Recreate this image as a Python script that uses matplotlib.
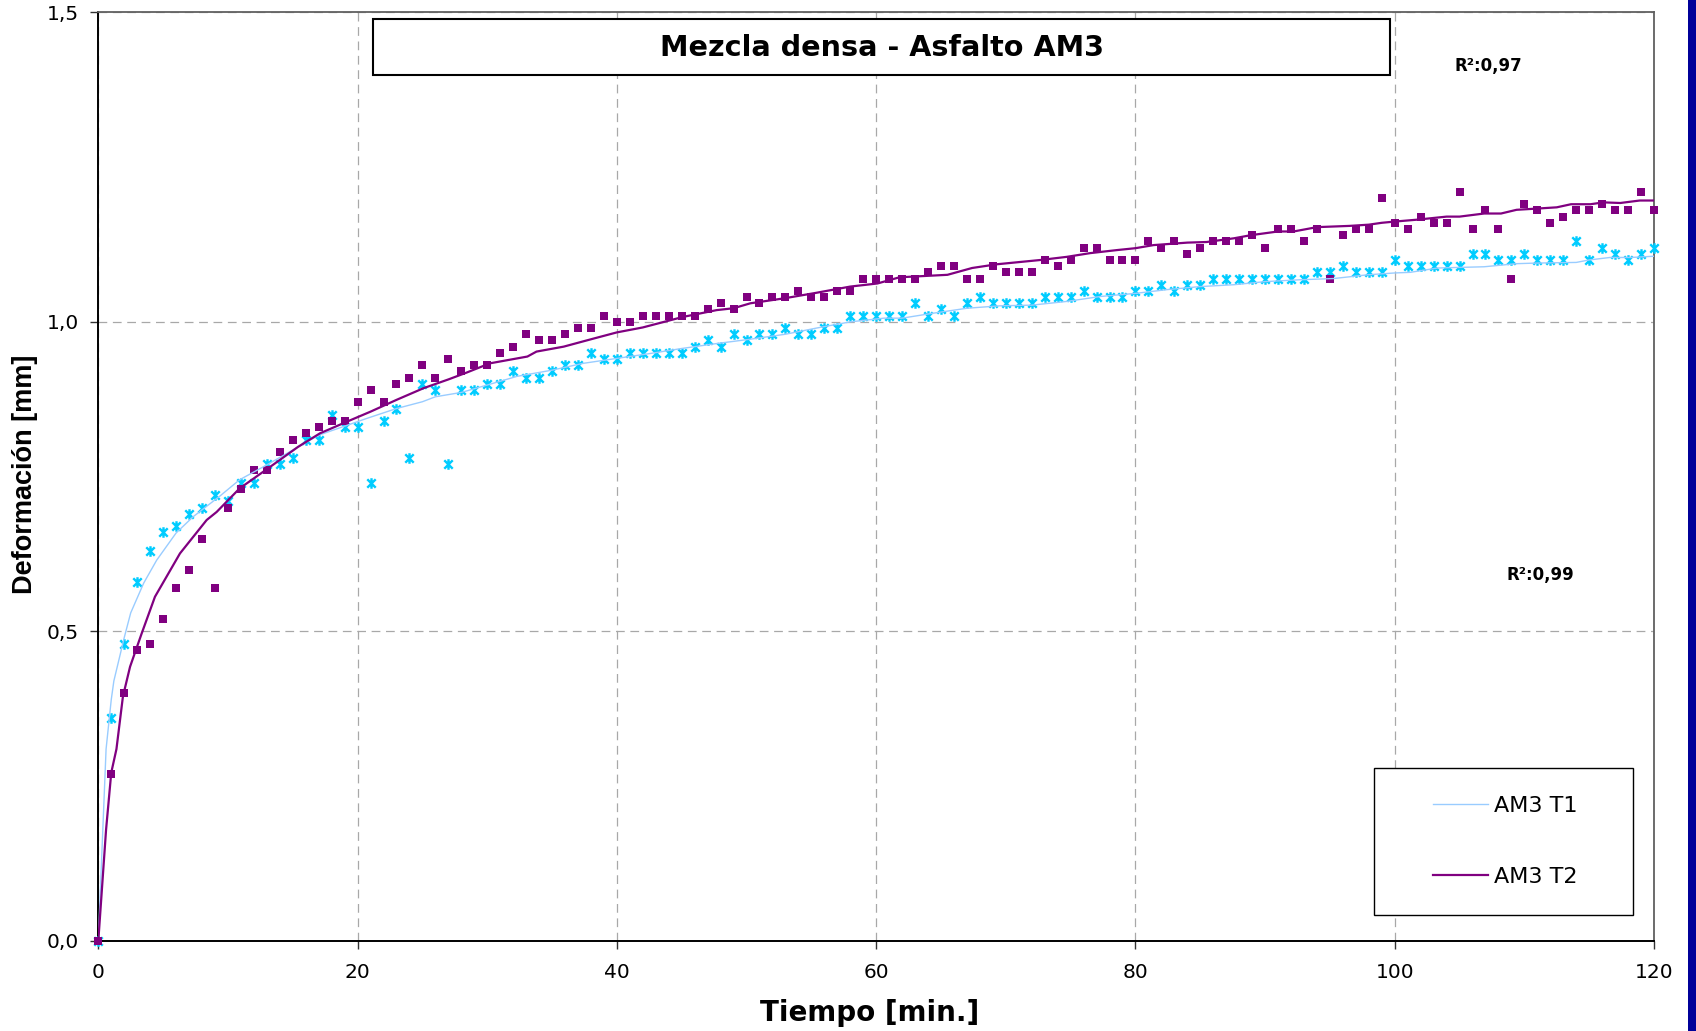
import matplotlib
matplotlib.use("Agg")
import matplotlib.pyplot as plt
from matplotlib.path import Path
from matplotlib.patches import Rectangle

# ---------------- data ----------------
minutes = list(range(121))

am3_t1 = [0.00, 0.36, 0.48, 0.58, 0.63, 0.66, 0.67, 0.69, 0.70, 0.72,
          0.71, 0.74, 0.74, 0.77, 0.77, 0.78, 0.81, 0.81, 0.85, 0.83,
          0.83, 0.74, 0.84, 0.86, 0.78, 0.90, 0.89, 0.77, 0.89, 0.89,
          0.90, 0.90, 0.92, 0.91, 0.91, 0.92, 0.93, 0.93, 0.95, 0.94,
          0.94, 0.95, 0.95, 0.95, 0.95, 0.95, 0.96, 0.97, 0.96, 0.98,
          0.97, 0.98, 0.98, 0.99, 0.98, 0.98, 0.99, 0.99, 1.01, 1.01,
          1.01, 1.01, 1.01, 1.03, 1.01, 1.02, 1.01, 1.03, 1.04, 1.03,
          1.03, 1.03, 1.03, 1.04, 1.04, 1.04, 1.05, 1.04, 1.04, 1.04,
          1.05, 1.05, 1.06, 1.05, 1.06, 1.06, 1.07, 1.07, 1.07, 1.07,
          1.07, 1.07, 1.07, 1.07, 1.08, 1.08, 1.09, 1.08, 1.08, 1.08,
          1.10, 1.09, 1.09, 1.09, 1.09, 1.09, 1.11, 1.11, 1.10, 1.10,
          1.11, 1.10, 1.10, 1.10, 1.13, 1.10, 1.12, 1.11, 1.10, 1.11,
          1.12]

am3_t2 = [0.00, 0.27, 0.40, 0.47, 0.48, 0.52, 0.57, 0.60, 0.65, 0.57,
          0.70, 0.73, 0.76, 0.76, 0.79, 0.81, 0.82, 0.83, 0.84, 0.84,
          0.87, 0.89, 0.87, 0.90, 0.91, 0.93, 0.91, 0.94, 0.92, 0.93,
          0.93, 0.95, 0.96, 0.98, 0.97, 0.97, 0.98, 0.99, 0.99, 1.01,
          1.00, 1.00, 1.01, 1.01, 1.01, 1.01, 1.01, 1.02, 1.03, 1.02,
          1.04, 1.03, 1.04, 1.04, 1.05, 1.04, 1.04, 1.05, 1.05, 1.07,
          1.07, 1.07, 1.07, 1.07, 1.08, 1.09, 1.09, 1.07, 1.07, 1.09,
          1.08, 1.08, 1.08, 1.10, 1.09, 1.10, 1.12, 1.12, 1.10, 1.10,
          1.10, 1.13, 1.12, 1.13, 1.11, 1.12, 1.13, 1.13, 1.13, 1.14,
          1.12, 1.15, 1.15, 1.13, 1.15, 1.07, 1.14, 1.15, 1.15, 1.20,
          1.16, 1.15, 1.17, 1.16, 1.16, 1.21, 1.15, 1.18, 1.15, 1.07,
          1.19, 1.18, 1.16, 1.17, 1.18, 1.18, 1.19, 1.18, 1.18, 1.21,
          1.18]

# trend curves
t1_curve_x = [0, 0.6, 1.0, 1.2, 2.0, 2.5, 3.5, 4.5, 6.0, 7.3, 9.4, 10.9, 13, 15, 17,
              19.2, 20.7, 23, 25, 26, 28, 30, 32.3, 35, 37.4, 40, 42.6, 45, 47.7,
              50.3, 53, 55.4, 58, 60.6, 62, 64.4, 67, 69.6, 72, 74.7, 77.3, 80,
              82.4, 85, 87.6, 90, 92.7, 95.3, 97.9, 100, 101.2, 103.3, 106.9,
              109.4, 111, 114, 115, 116.6, 118.2, 120]
t1_curve_y = [0, 0.31, 0.39, 0.42, 0.49, 0.53, 0.578, 0.615, 0.659, 0.685, 0.719,
              0.745, 0.769, 0.793, 0.817, 0.833, 0.844, 0.860, 0.871, 0.879, 0.886,
              0.898, 0.912, 0.922, 0.933, 0.941, 0.949, 0.957, 0.965, 0.972, 0.980,
              0.990, 1.000, 1.006, 1.006, 1.014, 1.022, 1.026, 1.027, 1.033, 1.041,
              1.046, 1.052, 1.057, 1.060, 1.065, 1.068, 1.070, 1.076, 1.079, 1.080,
              1.087, 1.089, 1.094, 1.095, 1.096, 1.100, 1.104, 1.104, 1.106]

t2_curve_x = [0, 0.6, 1.0, 1.4, 1.9, 2.45, 3.35, 4.37, 6.3, 8.36, 9.13, 10.9, 13,
              15.4, 17.1, 19.2, 21, 23, 25.1, 27, 28.4, 30.2, 33.1, 33.8, 35.9,
              38.2, 40, 42, 45.1, 47.7, 49, 50.3, 52.9, 55.4, 58, 60.1, 61.8, 65.5,
              67.4, 69.3, 72.7, 74.7, 76.5, 78.6, 80, 81.4, 84, 85.5, 87.6, 88.9,
              91, 92.2, 94, 96.5, 98, 99, 100, 101.7, 104, 105, 106.9, 108.2,
              109.4, 111, 112.5, 113.6, 115.1, 116.1, 117.4, 118.9, 120]
t2_curve_y = [0, 0.18, 0.272, 0.31, 0.395, 0.443, 0.497, 0.556, 0.626, 0.680, 0.693,
              0.731, 0.762, 0.798, 0.820, 0.839, 0.855, 0.874, 0.893, 0.907, 0.918,
              0.933, 0.944, 0.952, 0.960, 0.973, 0.983, 0.991, 1.008, 1.019, 1.022,
              1.030, 1.038, 1.047, 1.057, 1.062, 1.072, 1.076, 1.087, 1.093, 1.100,
              1.105, 1.111, 1.116, 1.119, 1.124, 1.128, 1.129, 1.135, 1.140, 1.146,
              1.146, 1.153, 1.155, 1.157, 1.160, 1.162, 1.165, 1.170, 1.170, 1.175,
              1.175, 1.181, 1.183, 1.185, 1.190, 1.190, 1.193, 1.192, 1.196, 1.196]

series_labels = ["AM3 T1", "AM3 T2"]
x_ticks = [0, 20, 40, 60, 80, 100, 120]
y_ticks = [0.0, 0.5, 1.0, 1.5]
y_tick_labels = ["0,0", "0,5", "1,0", "1,5"]
box_title = "Mezcla densa - Asfalto AM3"
r2_labels = ["R²:0,97", "R²:0,99"]
x_label = "Tiempo [min.]"
y_label = "Deformación [mm]"

# ---------------- figure ----------------
W, H = 1696, 1031
fig = plt.figure(figsize=(W / 100, H / 100), dpi=100)
fig.patch.set_facecolor("white")

ax_l, ax_r, ax_t, ax_b = 98.3, 1654.0, 12.3, 941.0
ax = fig.add_axes([ax_l / W, 1 - ax_b / H, (ax_r - ax_l) / W, (ax_b - ax_t) / H])

def fx(px):  # pixel -> axes fraction
    return (px - ax_l) / (ax_r - ax_l)

def fy(py):
    return (ax_b - py) / (ax_b - ax_t)

cyan = "#00CCFF"
light_blue = "#99CCFF"
purple = "#800080"

star = Path([(-1, -1), (1, 1), (-1, 1), (1, -1), (0, -1.25), (0, 1.25)],
            [Path.MOVETO, Path.LINETO, Path.MOVETO, Path.LINETO, Path.MOVETO, Path.LINETO])

ax.plot(minutes, am3_t1, linestyle="none", marker=star, markersize=7.6,
        markeredgewidth=1.7, color=cyan, clip_on=False, zorder=3)
ax.plot(minutes, am3_t2, linestyle="none", marker="s", markersize=5.4,
        color=purple, markeredgewidth=0, clip_on=False, zorder=3)

l1, = ax.plot(t1_curve_x, t1_curve_y, color=light_blue, lw=1.0, label=series_labels[0], zorder=4)
l2, = ax.plot(t2_curve_x, t2_curve_y, color=purple, lw=1.6, label=series_labels[1], zorder=4)

ax.set_xlim(0, 120)
ax.set_ylim(0, 1.5)
ax.set_xticks(x_ticks)
ax.set_xticklabels([str(v) for v in x_ticks])
ax.set_yticks(y_ticks)
ax.set_yticklabels(y_tick_labels)

ax.set_axisbelow(True)
ax.grid(True, linestyle=(0, (7, 4.5)), color="#A8A8A8", lw=0.9)

for s in ["left", "bottom"]:
    ax.spines[s].set_color("black")
    ax.spines[s].set_linewidth(1.4)
for s in ["top", "right"]:
    ax.spines[s].set_color("#606060")
    ax.spines[s].set_linewidth(1.3)

ax.tick_params(axis="both", direction="out", length=5.5, width=1.0, color="#333333",
               labelsize=14.5, labelcolor="black")
ax.tick_params(axis="x", pad=10.5)
ax.tick_params(axis="y", pad=8.5)

ax.set_xlabel(x_label, fontsize=20, fontweight="bold", family="DejaVu Sans")
ax.xaxis.set_label_coords(fx(870), fy(1013))
ax.xaxis.label.set_va("center")

ax.set_ylabel(y_label, fontsize=19.5, fontweight="bold", family="Liberation Sans")
ax.yaxis.set_label_coords(fx(25), fy(474))
ax.yaxis.label.set_va("center")

# title box
ax.add_patch(Rectangle((fx(373), fy(74.6)), fx(1390) - fx(373), fy(19.5) - fy(74.6),
                       transform=ax.transAxes, facecolor="white", edgecolor="black",
                       lw=1.5, zorder=5, clip_on=False))
ax.text(fx(881.5), fy(47.5), box_title, transform=ax.transAxes, ha="center", va="center",
        fontsize=20.6, fontweight="bold", zorder=6)

# R² annotations
ax.text(fx(1455), fy(66), r2_labels[0], transform=ax.transAxes, ha="left", va="center",
        fontsize=12, fontweight="bold", zorder=6)
ax.text(fx(1507), fy(575), r2_labels[1], transform=ax.transAxes, ha="left", va="center",
        fontsize=12, fontweight="bold", zorder=6)

# legend box + legend
ax.add_patch(Rectangle((fx(1374), fy(915)), fx(1633) - fx(1374), fy(768) - fy(915),
                       transform=ax.transAxes, facecolor="white", edgecolor="black",
                       lw=1.0, zorder=5, clip_on=False))
leg = ax.legend(handles=[l1, l2], loc="center left", bbox_to_anchor=(fx(1433), fy(841.5)),
                frameon=False, fontsize=16, handlelength=2.48, handletextpad=0.27,
                labelspacing=2.3, borderpad=0, borderaxespad=0)
leg.set_zorder(7)

# dark blue strip at right edge
fig.patches.append(Rectangle((1688 / W, 0), 1 - 1688 / W, 1, transform=fig.transFigure,
                             facecolor="#000099", edgecolor="none", zorder=10))

fig.savefig("out.png", dpi=100)
